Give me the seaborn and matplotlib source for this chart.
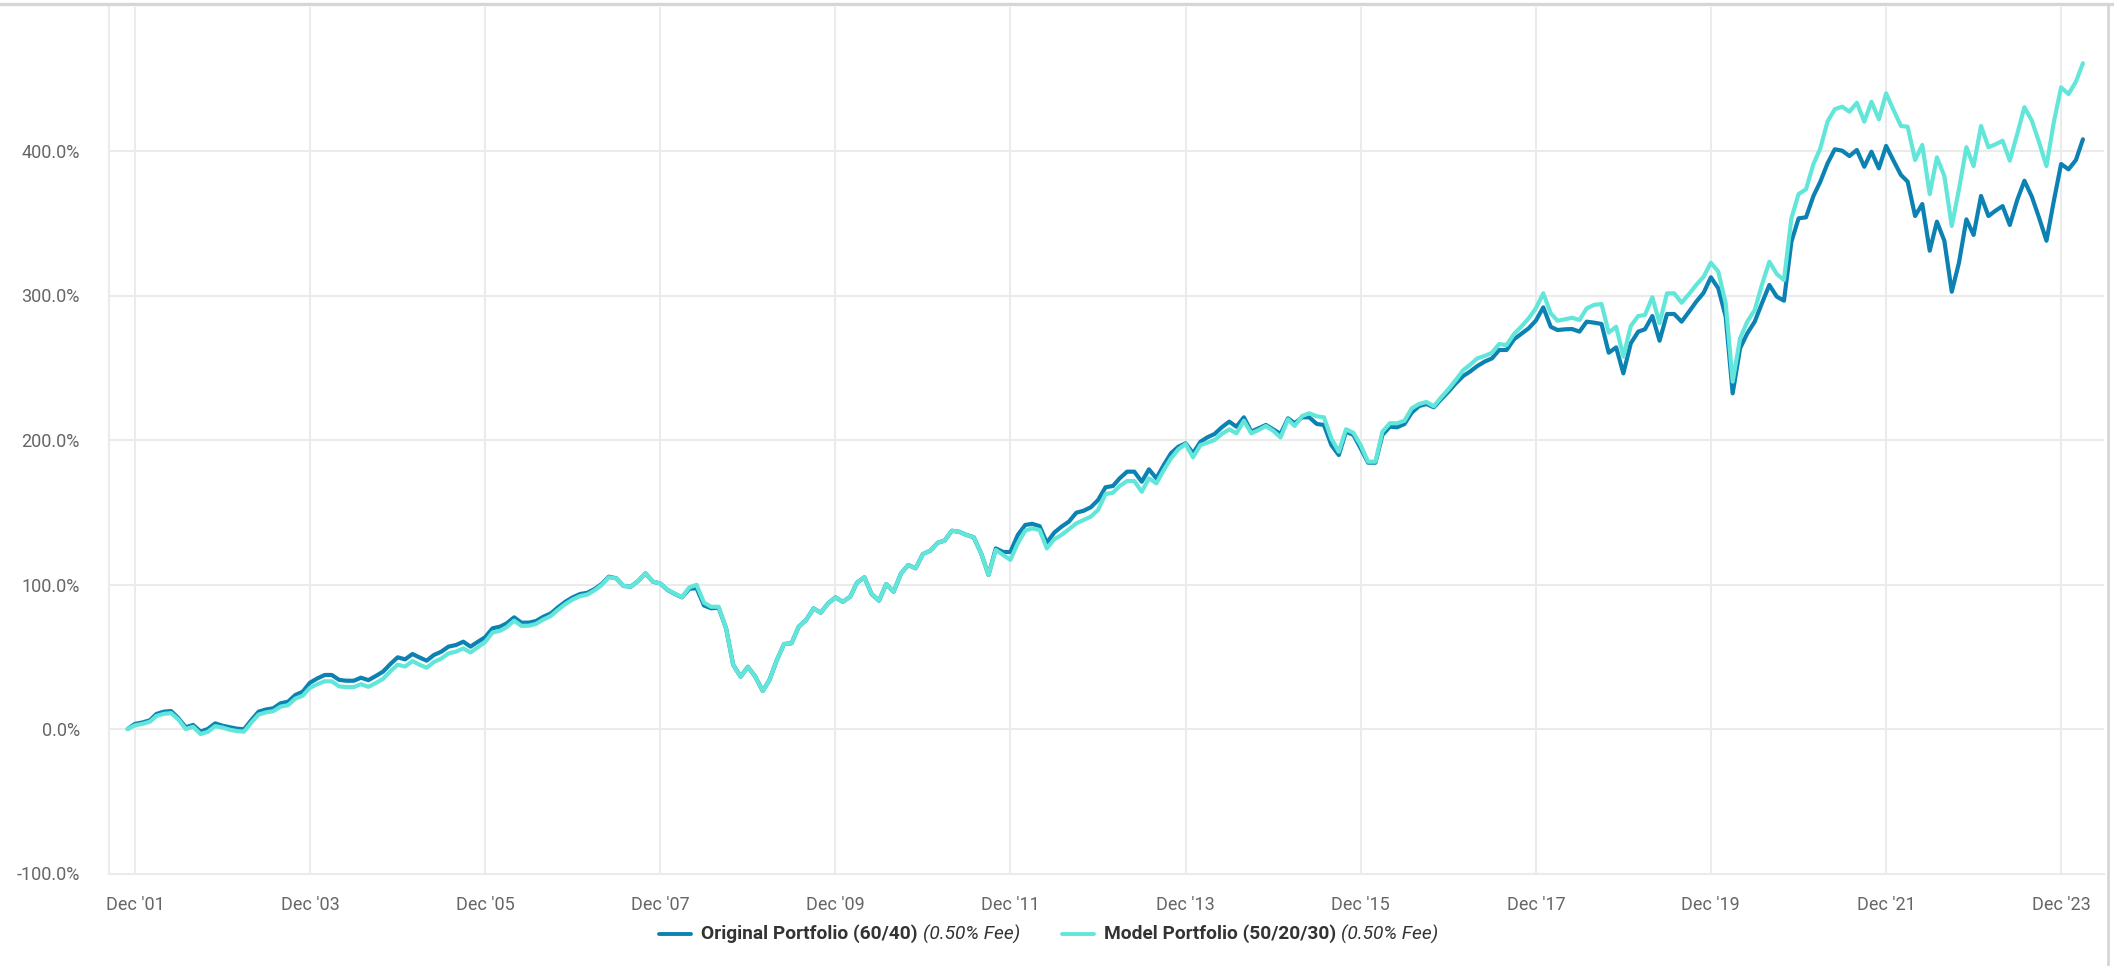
import matplotlib
matplotlib.use("Agg")
import pandas as pd
import matplotlib.pyplot as plt
from matplotlib.lines import Line2D
from matplotlib.offsetbox import AnchoredOffsetbox, DrawingArea, HPacker, TextArea
from matplotlib.ticker import FuncFormatter
import seaborn as sns

# Cumulative return (%), monthly, starting November 2001
start_month = "2001-11-01"

original_6040 = [
    0, 3.5, 4.5, 6, 10.4, 12, 12.4, 7.4, 1.2, 2.8,
    -1.8, 0, 3.9, 2.3, 1.2, 0.2, -0.2, 6.2, 12, 13.5,
    14.3, 17.8, 18.9, 23.5, 25.8, 32, 35, 37.4, 37.4, 34,
    33.4, 33.4, 35.5, 33.8, 36.7, 39.7, 45, 49.6, 48.2, 51.9,
    49.6, 47.3, 51.2, 53.5, 57, 58.1, 60.4, 57, 60.4, 63.5,
    69.7, 70.8, 73.1, 77.3, 73.6, 73.6, 74.7, 77.7, 80, 84.2,
    88.1, 91.1, 93.4, 94.3, 96.7, 100.3, 105.4, 104.3, 99, 98.5,
    102.6, 107.7, 101.9, 100.8, 96.2, 93.4, 91.1, 97, 97.5, 85.5,
    83.5, 84, 69.7, 44.3, 36.2, 43.1, 36.2, 26.3, 33.9, 47.8,
    58.8, 59.3, 70.8, 75.4, 83.5, 80.5, 87, 91.1, 88, 91.6,
    101.2, 105, 93.4, 88.8, 100.3, 95, 107.7, 113.5, 111.2, 121.1,
    123.4, 128.9, 130.3, 137.2, 136.5, 134.3, 132.7, 121.6, 106.6, 125,
    122.5, 122.5, 134.3, 141.2, 142, 140.4, 128.9, 135.9, 140, 143.5,
    149.7, 151, 153.5, 158.5, 167.3, 168.2, 173.5, 178.1, 178.1, 171.1,
    179.7, 173.5, 182.7, 190.8, 195.4, 197.7, 190.8, 198.8, 201.8, 204.2,
    208.8, 212.7, 209.2, 215.7, 205.8, 208.1, 210.4, 207.4, 204.2, 215,
    211.6, 215.7, 215.7, 211.1, 210.4, 196.5, 189.6, 205.8, 203.5, 194.3,
    184.3, 184.3, 203.5, 209.2, 208.8, 211.1, 218.9, 223.5, 224.9, 222.6,
    228.2, 233.4, 239.2, 244.3, 247.3, 251.2, 254.2, 256.5, 262.3, 262.3,
    269.7, 273.4, 277.3, 282.6, 291.8, 278.4, 276.1, 276.6, 276.8, 275,
    281.9, 281.2, 280.3, 260.4, 264.1, 246.1, 266.9, 275, 276.6, 285.8,
    268.7, 287.2, 287.2, 281.9, 288.8, 295.7, 301.9, 312.6, 305, 285.3,
    232.3, 263.5, 273.8, 281.9, 294.6, 307.3, 299.2, 296.4, 337.2, 353.4,
    354.1, 368.9, 378.5, 391.5, 401.2, 400.2, 396.5, 400.7, 389.1, 399.5,
    388, 403.5, 393.3, 383.4, 378.8, 355, 363.3, 331, 351.1, 337.9,
    302.6, 322.7, 352.7, 341.9, 368.9, 355, 358.5, 361.9, 348.8, 366.1,
    379.4, 368.4, 353.4, 337.9, 365.7, 391, 387.3, 393.8, 408.1,
]

model_502030 = [
    0, 2.5, 3.5, 5, 9, 10.5, 11, 6.5, 0, 1.5,
    -3.5, -2, 2, 1, -0.5, -1.5, -1.8, 4.5, 10, 11.5,
    12.3, 15.5, 16.5, 21, 23, 28.5, 31, 33, 33, 29.5,
    29, 29, 31, 29.2, 31.8, 34.7, 40, 44.5, 43.2, 47,
    44.6, 42.4, 46.3, 48.7, 52.3, 53.5, 55.8, 53, 56.6, 60.2,
    66.8, 68, 70.5, 75, 71.4, 71.5, 72.7, 75.8, 78.2, 82.5,
    86.5, 89.6, 92, 93.1, 95.8, 99.6, 105, 104.2, 99, 98.5,
    102.6, 107.7, 102, 100.8, 96.4, 93.6, 91.3, 98, 99.8, 87.4,
    84.6, 84.6, 69.7, 44.3, 36.2, 43.1, 36.2, 26.3, 33.9, 47.8,
    58.8, 59.3, 70.8, 75.4, 83.5, 80.5, 87, 91.1, 88, 91.6,
    101.2, 105, 93.4, 88.8, 100.3, 95, 107.7, 113.5, 111.2, 121.1,
    123.4, 128.9, 130.3, 137.2, 136.5, 134.3, 132.7, 121.6, 106.6, 123.9,
    120.4, 117, 128.5, 137.2, 138.9, 137.7, 125, 131.3, 134.3, 138.2,
    142.3, 144.6, 147, 151.6, 162.6, 163.5, 168.2, 171.6, 171.6, 164.2,
    173.5, 170, 179.2, 187.3, 193.6, 197.2, 188, 196.5, 198.1, 200,
    204.2, 207.4, 204.6, 213.3, 204.6, 206.9, 209.7, 206.4, 201.8, 214.3,
    209.7, 216.6, 218.5, 216.4, 215.7, 201, 191.9, 207.4, 205, 196.5,
    185, 185, 205.8, 211.6, 211.6, 213.3, 221.9, 224.9, 226.3, 223.3,
    229.5, 235.1, 241.5, 248.4, 251.9, 256.5, 258.1, 260.4, 266.4, 265.7,
    273.4, 278.4, 284.2, 291.1, 301.5, 287.7, 282.6, 283.5, 284.6, 283,
    291.1, 293.5, 294.1, 274.3, 278.4, 257.7, 278.9, 285.8, 286.5, 298.8,
    280.8, 301.5, 301.5, 295, 301, 307.3, 313, 322.7, 316.5, 294.6,
    240.4, 270.4, 281.9, 290, 307.3, 323.4, 314.9, 310.7, 353.4, 370.2,
    373.5, 391, 401.5, 420.5, 428.9, 430.7, 427.2, 433.4, 420.3, 434.1,
    421.9, 439.9, 428.4, 417.3, 416.8, 393.8, 404.2, 370.2, 395.6, 382.7,
    348.1, 373.5, 402.6, 389.6, 417.3, 402.6, 404.5, 407.1, 393.3, 411.8,
    430.3, 421, 405.7, 389.6, 420.3, 444, 439.4, 448, 460.7,
]

series_names = ["Original Portfolio (60/40)", "Model Portfolio (50/20/30)"]
fee_note = "(0.50% Fee)"
y_ticks = [-100, 0, 100, 200, 300, 400]
x_tick_years = list(range(2001, 2024, 2))

ORIGINAL_COLOR = "#0b82b2"
MODEL_COLOR = "#62e6da"
GRID_COLOR = "#ebebeb"
TICK_COLOR = "#666666"

dates = pd.date_range(start_month, periods=len(original_6040), freq="MS")
df = pd.DataFrame({"date": dates, "original": original_6040, "model": model_502030})

sns.set_style("white")
plt.rcParams["font.family"] = ["Roboto", "DejaVu Sans"]

W, H = 2114, 966
fig = plt.figure(figsize=(W / 100, H / 100), dpi=100)
left, right, top, bottom = 109, 2104, 6.5, 873.5
ax = fig.add_axes([left / W, (H - bottom) / H, (right - left) / W, (bottom - top) / H])

sns.lineplot(data=df, x="date", y="original", color=ORIGINAL_COLOR, linewidth=3.0,
             solid_joinstyle="round", solid_capstyle="round", ax=ax, zorder=3)
sns.lineplot(data=df, x="date", y="model", color=MODEL_COLOR, linewidth=3.0,
             solid_joinstyle="round", solid_capstyle="round", ax=ax, zorder=4)

ax.set_xlim(pd.Timestamp("2001-08-15"), pd.Timestamp("2024-05-28"))
ax.set_ylim(-100, 500)
ax.set_yticks(y_ticks)
ax.yaxis.set_major_formatter(FuncFormatter(lambda v, _: f"{v:.1f}%"))
tick_dates = [pd.Timestamp(f"{y}-12-01") for y in x_tick_years]
ax.set_xticks(tick_dates)
ax.set_xticklabels([f"Dec '{y % 100:02d}" for y in x_tick_years])
ax.set_xlabel("")
ax.set_ylabel("")

ax.grid(True, color=GRID_COLOR, linewidth=1.5)
ax.set_axisbelow(True)
for side in ("top", "right"):
    ax.spines[side].set_visible(False)
for side in ("left", "bottom"):
    ax.spines[side].set_color(GRID_COLOR)
    ax.spines[side].set_linewidth(1.5)
ax.tick_params(axis="both", length=0, labelsize=13, labelcolor=TICK_COLOR)
ax.tick_params(axis="y", pad=21)
ax.tick_params(axis="x", pad=16)

# Page frame lines along the top and right edge
frame_color = "#d6d6d6"
fig.add_artist(Line2D([0, 1], [1 - 3.5 / H, 1 - 3.5 / H], transform=fig.transFigure,
                      color=frame_color, linewidth=2.4))
fig.add_artist(Line2D([2108 / W, 2108 / W], [0, 1 - 3.5 / H], transform=fig.transFigure,
                      color=frame_color, linewidth=2.0))


# Legend: colored line, bold series name, italic fee note
def legend_entry(name, color):
    handle = DrawingArea(23, 10, 0, 0)
    handle.add_artist(Line2D([0, 23], [5, 5], color=color, linewidth=2.8))
    bold = TextArea(name, textprops=dict(fontsize=13.8, fontweight="bold", color="#333333"))
    italic = TextArea(fee_note, textprops=dict(fontsize=13.8, fontstyle="italic", color="#333333"))
    words = HPacker(children=[bold, italic], sep=4, align="baseline", pad=0)
    return HPacker(children=[handle, words], sep=7, align="center", pad=0)


legend_box = HPacker(
    children=[legend_entry(series_names[0], ORIGINAL_COLOR),
              legend_entry(series_names[1], MODEL_COLOR)],
    sep=30, align="center", pad=0,
)
anchored = AnchoredOffsetbox(loc="center", child=legend_box, pad=0, borderpad=0, frameon=False,
                             bbox_to_anchor=(1049 / W, 1 - 934 / H),
                             bbox_transform=fig.transFigure)
fig.add_artist(anchored)

fig.savefig("out.png", dpi=100, facecolor="white")
